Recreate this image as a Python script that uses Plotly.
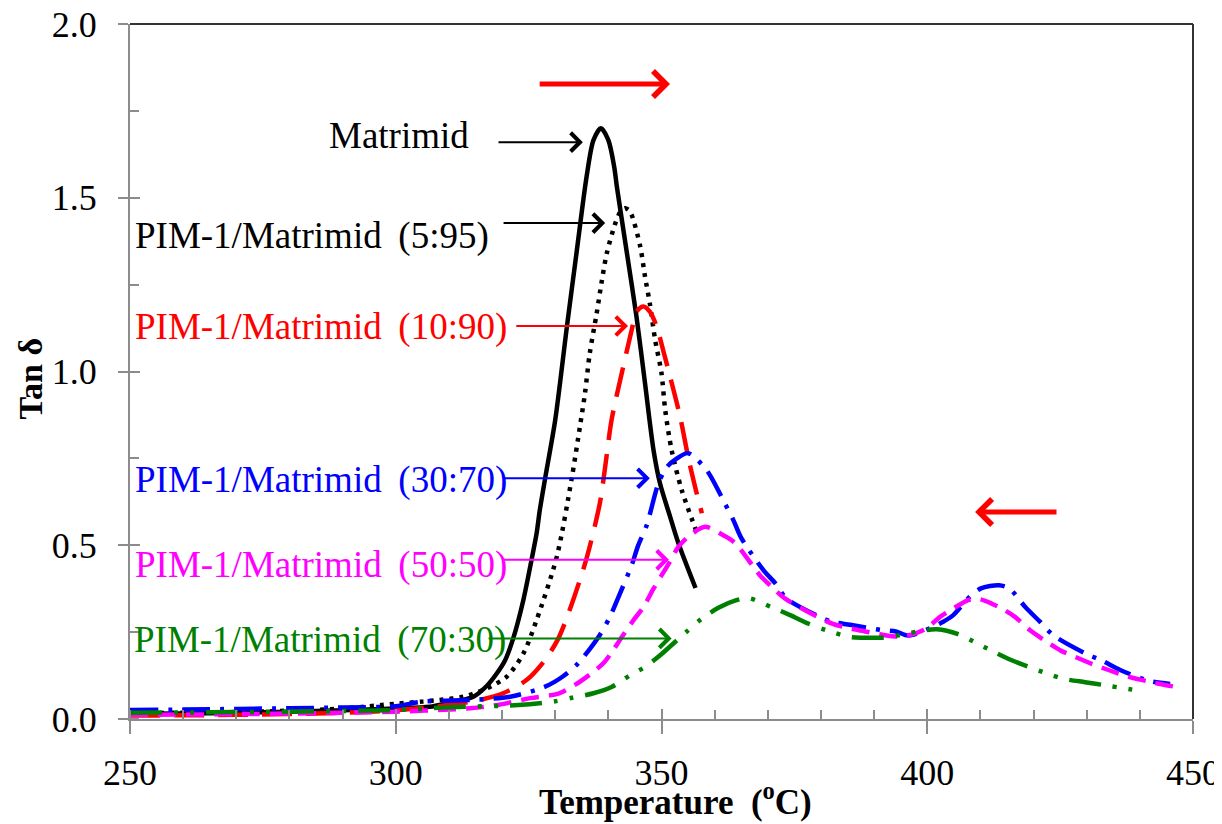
import plotly.graph_objects as go

# ---------------- data ----------------
T_m = [250, 260, 270, 280, 290, 300, 306.4, 309.6, 314.6, 317.1, 319.0, 320.6, 322.1, 324.0, 325.6, 326.5, 327.1,
       328.1, 330.0, 332.2, 334.0, 335.9, 337.2, 338.6, 340.0, 341.1, 341.6, 343.5, 345.3, 346.9, 348.5, 349.7,
       351.6, 353.2, 356.4]
y_m = [0.015, 0.016, 0.018, 0.021, 0.025, 0.030, 0.035, 0.045, 0.064, 0.095, 0.131, 0.170, 0.232, 0.342, 0.462, 0.534, 0.601,
       0.692, 0.860, 1.129, 1.340, 1.560, 1.666, 1.700, 1.666, 1.589, 1.532, 1.340, 1.157, 0.966, 0.774, 0.679,
       0.583, 0.505, 0.377]

T_5 = [250, 260, 270, 280, 290, 300, 305, 308.3, 312.7, 317.1, 320.9, 324.0, 326.5, 330.3, 333.1, 334.7,
       335.6, 336.5, 337.8, 338.7, 339.7, 341.3, 342.2, 343.1, 343.8, 344.4, 346.0, 346.9, 347.8, 348.8, 350.0,
       350.7, 351.9, 353.8, 356.6]
y_5 = [0.017, 0.018, 0.020, 0.024, 0.030, 0.044, 0.050, 0.055, 0.064, 0.088, 0.122, 0.188, 0.285, 0.467, 0.692, 0.846,
       0.937, 1.052, 1.167, 1.254, 1.340, 1.426, 1.458, 1.470, 1.465, 1.450, 1.360, 1.273, 1.196, 1.091, 0.995,
       0.889, 0.774, 0.659, 0.539]

T_10 = [250, 270, 290, 300, 310, 315.9, 320.2, 324.6, 328.1, 330.6, 332.8, 335.9, 338.4, 339.4, 340.6,
        342.8, 344.4, 345.3, 346.6, 347.8, 349.1, 350.3, 351.6, 353.5, 355.0, 356.3, 357.6]
y_10 = [0.010, 0.012, 0.018, 0.025, 0.040, 0.055, 0.074, 0.112, 0.170, 0.232, 0.317, 0.462, 0.621, 0.725, 0.860,
        1.014, 1.120, 1.172, 1.187, 1.172, 1.129, 1.062, 0.986, 0.870, 0.755, 0.669, 0.592]

T_30 = [250, 260, 270, 280, 290, 300, 305.1, 314.3, 321.5, 328.1, 331.5, 334.3, 338.4, 340.3, 341.9, 344.4,
        345.6, 347.2, 349.4, 351.0, 352.9, 355.0, 358.5, 361.9, 363.5, 365.0, 369.1, 371.5, 373.5, 379.2,
        382.0, 385.5, 391.4, 394.1, 396.4, 400.5, 403.0, 404.9, 408.0, 410.1, 413.5, 415.5, 418.4, 421.2,
        423.7, 429.7, 433.0, 436.3, 441.9, 445.7]
y_30 = [0.026, 0.027, 0.029, 0.031, 0.033, 0.037, 0.050, 0.055, 0.064, 0.093, 0.123, 0.160, 0.242, 0.294, 0.351, 0.443,
        0.499, 0.557, 0.677, 0.725, 0.750, 0.765, 0.716, 0.621, 0.573, 0.521, 0.430, 0.389, 0.347, 0.298,
        0.280, 0.271, 0.256, 0.252, 0.240, 0.261, 0.280, 0.299, 0.352, 0.376, 0.385, 0.375, 0.323, 0.280,
        0.241, 0.189, 0.167, 0.141, 0.109, 0.101]

T_50 = [250, 270, 300, 314.0, 319.0, 325.3, 330.6, 333.7, 336.6, 339.1, 340.9, 342.5, 344.7, 346.6, 348.5,
        351.6, 353.2, 355.4, 358.2, 361.6, 363.8, 368.5, 370.7, 373.2, 382.0, 385.1, 388.3, 391.7, 394.6,
        396.8, 399.9, 402.4, 404.9, 407.7, 409.3, 410.9, 414.0, 416.5, 419.3, 421.8, 425.0, 427.8, 431.2,
        434.1, 437.8, 441.9, 447.2]
y_50 = [0.012, 0.014, 0.021, 0.031, 0.040, 0.060, 0.073, 0.098, 0.129, 0.161, 0.198, 0.235, 0.284, 0.322, 0.375,
        0.453, 0.496, 0.529, 0.553, 0.529, 0.507, 0.414, 0.381, 0.347, 0.275, 0.262, 0.252, 0.242, 0.237,
        0.242, 0.261, 0.294, 0.318, 0.342, 0.346, 0.340, 0.318, 0.294, 0.256, 0.229, 0.198, 0.179, 0.157,
        0.141, 0.122, 0.107, 0.091]

T_70 = [250, 270, 300, 310, 323.1, 330.0, 333.4, 337.2, 340.6, 344.1, 346.9, 349.4, 354.7, 357.6, 360.7,
        364.1, 366.3, 370.7, 374.2, 377.7, 381.1, 385.5, 388.0, 391.6, 395.4, 398.9, 401.8, 405.8, 409.2,
        412.6, 415.9, 422.5, 425.9, 429.7, 433.1, 440.0]
y_70 = [0.018, 0.020, 0.026, 0.034, 0.040, 0.051, 0.062, 0.074, 0.092, 0.126, 0.150, 0.179, 0.251, 0.289, 0.320,
        0.342, 0.348, 0.322, 0.299, 0.274, 0.255, 0.236, 0.234, 0.234, 0.243, 0.254, 0.258, 0.244, 0.219,
        0.193, 0.169, 0.131, 0.115, 0.106, 0.098, 0.081]

x_ticks = [250, 300, 350, 400, 450]
y_ticks = [0.0, 0.5, 1.0, 1.5, 2.0]

FONT = "Liberation Serif, Times New Roman, serif"
GAP = "\u00a0\u2009"

series = [
    (T_m, y_m, "Matrimid", "black", "solid", 4.5),
    (T_5, y_5, "PIM-1/Matrimid (5:95)", "black", "4px,6px", 4.5),
    (T_10, y_10, "PIM-1/Matrimid (10:90)", "red", "30px,14px", 4.5),
    (T_30, y_30, "PIM-1/Matrimid (30:70)", "blue", "28px,10px,4px,10px", 4.5),
    (T_50, y_50, "PIM-1/Matrimid (50:50)", "magenta", "18px,10px", 4.5),
    (T_70, y_70, "PIM-1/Matrimid (70:30)", "green", "32px,12px,4px,12px,4px,12px", 4.5),
]

fig = go.Figure()
for xs, ys, name, col, dash, w in series:
    fig.add_trace(go.Scatter(x=xs, y=ys, mode="lines", name=name,
                             line=dict(color=col, dash=dash, width=w, shape="spline", smoothing=0.8),
                             showlegend=False))

# dummy trace for the overlay axes (inner half of crossing ticks)
fig.add_trace(go.Scatter(x=[None], y=[None], xaxis="x2", yaxis="y2", showlegend=False, hoverinfo="skip"))

axis_col = "#8c8c8c"
# page body has an 8px margin, so the figure is 8px smaller than the window
fig.update_layout(
    width=1214, height=816,
    margin=dict(l=122, r=29, t=16, b=105, autoexpand=False),
    paper_bgcolor="white", plot_bgcolor="white",
    font=dict(family=FONT, size=34, color="black"),
    xaxis=dict(range=[250, 450], tickvals=x_ticks, ticks="outside", ticklen=13, tickwidth=2,
               tickcolor=axis_col, showline=True, linecolor=axis_col, linewidth=2,
               showgrid=False, zeroline=False, automargin=False, ticklabelstandoff=8,
               ticklabeloverflow="allow",
               tickfont=dict(family=FONT, size=36),
               minor=dict(dtick=10, ticks="inside", ticklen=9, tickwidth=1.5, tickcolor=axis_col, showgrid=False)),
    yaxis=dict(range=[0, 2.0], tickvals=y_ticks, tickformat=".1f", ticks="outside", ticklen=10, tickwidth=2,
               tickcolor=axis_col, showline=True, linecolor=axis_col, linewidth=2,
               showgrid=False, zeroline=False, automargin=False, ticklabelstandoff=14,
               ticklabeloverflow="allow",
               tickfont=dict(family=FONT, size=36),
               minor=dict(dtick=0.25, ticks="inside", ticklen=9, tickwidth=1.5, tickcolor=axis_col, showgrid=False)),
    xaxis2=dict(range=[250, 450], overlaying="x", side="bottom", tickvals=x_ticks, ticks="inside",
                ticklen=10, tickwidth=2, tickcolor=axis_col, showticklabels=False, showline=False,
                showgrid=False, zeroline=False, automargin=False),
    yaxis2=dict(range=[0, 2.0], overlaying="y", side="left", tickvals=y_ticks, ticks="inside",
                ticklen=10, tickwidth=2, tickcolor=axis_col, showticklabels=False, showline=False,
                showgrid=False, zeroline=False, automargin=False),
)

# axis titles
fig.add_annotation(x=0.5136, y=0, xref="paper", yref="paper", yshift=-80, yanchor="middle",
                   text="<b>Temperature  (<sup>o</sup>C)</b>", showarrow=False,
                   font=dict(family=FONT, size=35, color="black"))
fig.add_annotation(x=0, y=0.49, xref="paper", yref="paper", xshift=-100, xanchor="center",
                   yanchor="middle", textangle=-90, text="<b>Tan δ</b>", showarrow=False,
                   font=dict(family=FONT, size=34, color="black"))

# top and right frame
fig.add_shape(type="line", xref="paper", yref="paper", x0=0, x1=1, y0=1, y1=1,
              line=dict(color="#333333", width=2))
fig.add_shape(type="line", xref="paper", yref="paper", x0=1, x1=1, y0=0, y1=1,
              line=dict(color="#333333", width=2))

# labels with thin arrows
labels = [
    ("Matrimid", 287.1, 1.68, "black", 319.05, 335.2, 1.660),
    ("PIM-1/Matrimid" + GAP + "(5:95)", 250.6, 1.39, "black", 320.0, 339.4, 1.427),
    ("PIM-1/Matrimid" + GAP + "(10:90)", 250.6, 1.128, "red", 322.4, 343.7, 1.131),
    ("PIM-1/Matrimid" + GAP + "(30:70)", 250.6, 0.687, "blue", 320.0, 347.8, 0.693),
    ("PIM-1/Matrimid" + GAP + "(50:50)", 250.6, 0.442, "magenta", 320.0, 351.4, 0.458),
    ("PIM-1/Matrimid" + GAP + "(70:30)", 250.3, 0.227, "green", 317.2, 351.9, 0.232),
]
for text, tx, ty, col, x0, x1, ya in labels:
    fig.add_annotation(x=tx, y=ty, xref="x", yref="y", text=text, showarrow=False,
                       xanchor="left", yanchor="middle", font=dict(family=FONT, size=37, color=col))
    fig.add_annotation(x=x1, y=ya, ax=x0, ay=ya, xref="x", yref="y", axref="x", ayref="y",
                       text="", showarrow=True, arrowhead=4, arrowsize=1.8, arrowwidth=2,
                       arrowcolor=col)

# thick red direction arrows
fig.add_annotation(x=351.6, y=1.827, ax=326.8, ay=1.827, xref="x", yref="y", axref="x", ayref="y",
                   text="", showarrow=True, arrowhead=4, arrowsize=1.0, arrowwidth=5, arrowcolor="red")
fig.add_annotation(x=409.0, y=0.596, ax=424.6, ay=0.596, xref="x", yref="y", axref="x", ayref="y",
                   text="", showarrow=True, arrowhead=4, arrowsize=1.0, arrowwidth=5, arrowcolor="red")

fig.write_html("out.html")
